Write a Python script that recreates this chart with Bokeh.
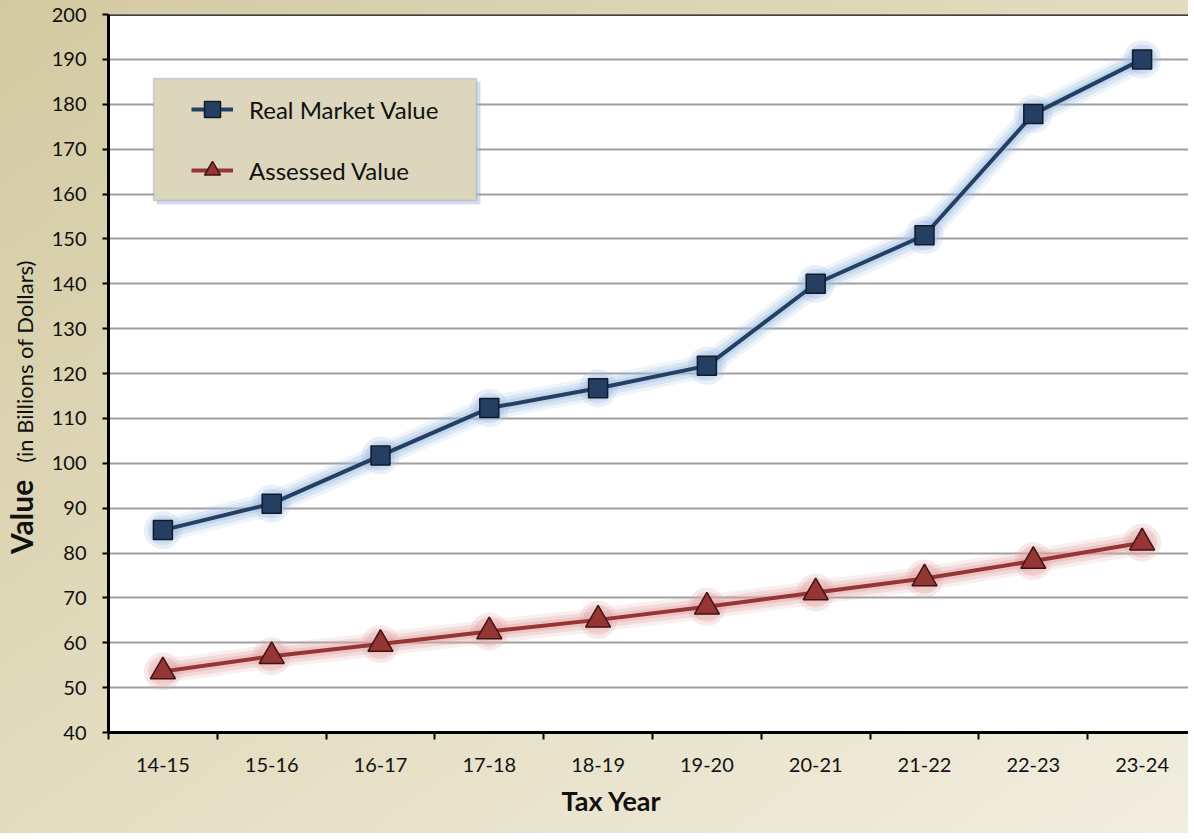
from bokeh.plotting import figure
from bokeh.layouts import row
from bokeh.models import (Range1d, FixedTicker, Legend, LegendItem, Title, Div,
                          BoxAnnotation, Span, ColumnDataSource)
from bokeh.embed import file_html
from bokeh.resources import INLINE

# ---- data ----
tax_years = ["14-15", "15-16", "16-17", "17-18", "18-19",
             "19-20", "20-21", "21-22", "22-23", "23-24"]
real_market_value = [85.1, 91.0, 101.7, 112.3, 116.7, 121.7, 140.0, 150.8, 177.8, 190.0]
assessed_value = [53.6, 57.0, 59.7, 62.5, 65.1, 68.0, 71.2, 74.3, 78.2, 82.3]
y_ticks = list(range(40, 201, 10))

# ---- styling ----
FONT = "Lato"
BLUE = "#243f62"
BLUE_EDGE = "#101c2c"
BLUE_GLOW = "#a3c0e4"
RED = "#963634"
RED_EDGE = "#3c1514"
RED_GLOW = "#e4a6a6"
BG = "linear-gradient(to bottom right, #d3caa2 0%, #e3dcbf 50%, #f2eee0 100%)"

xs = list(range(len(tax_years)))
src = ColumnDataSource(dict(x=xs, real=real_market_value, assessed=assessed_value))

LABEL_W = 28
cat_px = 108.8
p = figure(width=1178 - LABEL_W, height=823, output_backend="svg", toolbar_location=None,
           x_range=Range1d(-0.5, len(tax_years) - 0.5 - 8 / cat_px),
           y_range=Range1d(40, 200),
           min_border_left=70, min_border_right=0, min_border_top=14, min_border_bottom=83)

p.border_fill_alpha = 0
p.background_fill_color = "white"
p.outline_line_color = None

# axes
xa = p.xaxis[0]
xa.ticker = FixedTicker(ticks=xs, minor_ticks=[i - 0.5 for i in range(len(tax_years) + 1)])
xa.major_label_overrides = {i: t for i, t in enumerate(tax_years)}
xa.major_tick_line_color = None
xa.major_tick_out = 6
xa.major_tick_in = 0
xa.minor_tick_line_color = "black"
xa.minor_tick_line_width = 2
xa.minor_tick_out = 7
xa.minor_tick_in = 0
xa.axis_line_color = "black"
xa.axis_line_width = 3
xa.major_label_standoff = 18
xa.major_label_text_font = FONT
xa.major_label_text_font_size = "20px"
xa.major_label_text_color = "#111111"

ya = p.yaxis[0]
ya.ticker = FixedTicker(ticks=y_ticks)
ya.minor_tick_line_color = None
ya.major_tick_line_color = "black"
ya.major_tick_line_width = 2
ya.major_tick_out = 6
ya.major_tick_in = 0
ya.axis_line_color = "black"
ya.axis_line_width = 3
ya.major_label_standoff = 16
ya.major_label_text_font = FONT
ya.major_label_text_font_size = "20px"
ya.major_label_text_color = "#111111"

p.xgrid.grid_line_color = None
p.ygrid.ticker = FixedTicker(ticks=y_ticks)
p.ygrid.grid_line_color = "#a0a0a0"
p.ygrid.grid_line_width = 2

p.add_layout(Span(location=200, dimension="width", line_color="black", line_width=2.5))

# glow effects
for w, a in [(24, 0.18), (17, 0.28), (10, 0.4)]:
    p.line("x", "real", source=src, line_width=w, line_alpha=a, line_color=BLUE_GLOW,
           line_join="round", line_cap="round")
    p.line("x", "assessed", source=src, line_width=w, line_alpha=a, line_color=RED_GLOW,
           line_join="round", line_cap="round")
for s, a in [(38, 0.25), (30, 0.35)]:
    p.scatter("x", "real", source=src, marker="circle", size=s, fill_color=BLUE_GLOW,
              fill_alpha=a, line_color=None)
    p.scatter("x", "assessed", source=src, marker="circle", size=s, fill_color=RED_GLOW,
              fill_alpha=a, line_color=None)

# main series
real_line = p.line("x", "real", source=src, line_width=4, line_color=BLUE)
real_pts = p.scatter("x", "real", source=src, marker="square", size=19,
                     fill_color=BLUE, line_color=BLUE_EDGE, line_width=1.5)
ass_line = p.line("x", "assessed", source=src, line_width=4, line_color=RED)
ass_pts = p.scatter("x", "assessed", source=src, marker="triangle", size=25,
                    fill_color=RED, line_color=RED_EDGE, line_width=1.5)

# legend box (with soft shadow)
p.add_layout(BoxAnnotation(left=48, right=372, top=651, bottom=528,
                           left_units="screen", right_units="screen",
                           top_units="screen", bottom_units="screen",
                           fill_color="#9fb2c9", fill_alpha=0.45, line_color=None,
                           level="annotation"))
p.add_layout(BoxAnnotation(left=45, right=368, top=654, bottom=532,
                           left_units="screen", right_units="screen",
                           top_units="screen", bottom_units="screen",
                           fill_color="#dcd6bc", fill_alpha=1.0,
                           line_color="#7190bd", line_width=1.5, level="annotation"))

legend = Legend(items=[LegendItem(label="Real Market Value", renderers=[real_line, real_pts]),
                       LegendItem(label="Assessed Value", renderers=[ass_line, ass_pts])],
                location=(83, 542), orientation="vertical",
                glyph_width=42, glyph_height=40, label_standoff=16, spacing=21,
                padding=0, margin=0,
                background_fill_alpha=0, border_line_color=None,
                label_text_font=FONT, label_text_font_size="24px",
                label_text_color="#111111")
p.add_layout(legend, "center")

# x-axis title
p.add_layout(Title(text="Tax Year", align="left", offset=453, standoff=14,
                   text_font=FONT, text_font_style="bold", text_font_size="27px",
                   text_color="#111111"), "below")

# y-axis title (mixed styles) as rotated HTML text
ylab_html = (
    '<div style="position:relative;width:%dpx;height:823px;">'
    '<div style="position:absolute;left:1px;top:549px;transform-origin:0 0;'
    'transform:rotate(-90deg);white-space:nowrap;line-height:1;font-size:30px;'
    'font-family:Lato;color:#111111;">'
    '<span style="font-weight:bold;font-size:30px;">Value</span>'
    '<span style="font-size:22px;padding-left:17px;">(in Billions of Dollars)</span>'
    '</div></div>' % LABEL_W
)
ylab = Div(text=ylab_html, width=LABEL_W, height=823)

layout = row(ylab, p, spacing=0)
layout.styles = {"background": BG}

open("out.html", "w").write(file_html(layout, INLINE))
